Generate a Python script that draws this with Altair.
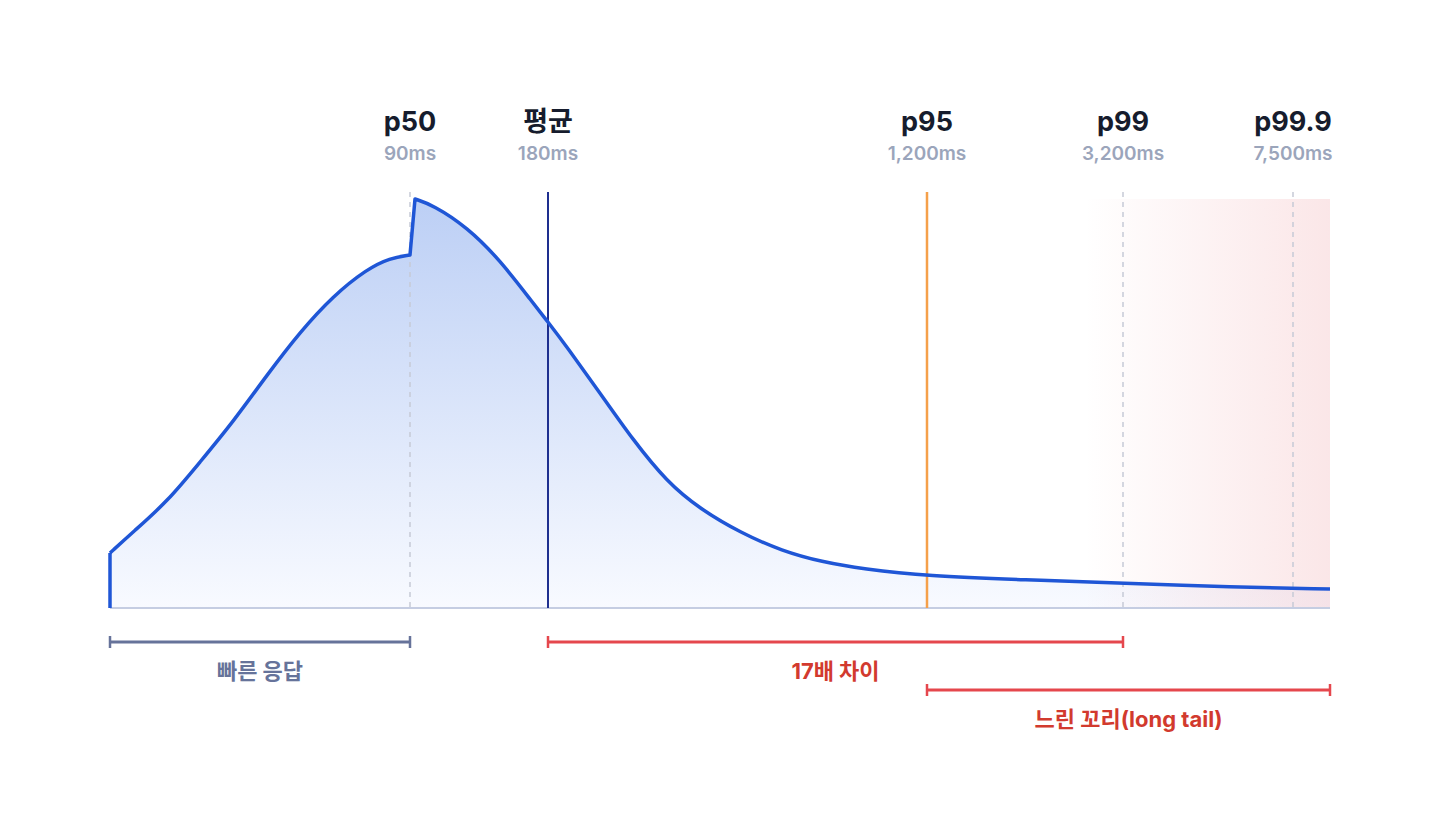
import altair as alt
import pandas as pd

# ---- data (schematic positions along the latency axis, heights above baseline) ----
curve_left_x = [0, 23, 57, 90, 123, 157, 190, 223, 257, 280, 300]
curve_left_y = [55, 76, 106, 146, 186, 233, 276, 312, 339, 350, 353]
curve_right_x = [305, 323, 357, 390, 423, 438, 457, 490, 523, 557, 590, 631, 672, 712, 753, 817, 916, 1013, 1121, 1220]
curve_right_y = [409, 403, 381, 348, 305, 286, 261, 215, 168, 126, 99, 75, 57, 46, 39, 32, 28, 25, 21, 19]

marker_names = ["p50", "평균", "p95", "p99", "p99.9"]
marker_values = ["90ms", "180ms", "1,200ms", "3,200ms", "7,500ms"]
marker_pos = [300, 438, 817, 1013, 1183]
marker_style = ["dash", "mean", "p95", "dash", "dash"]

bracket_labels = ["빠른 응답", "17배 차이", "느린 꼬리(long tail)"]
bracket_start = [0, 438, 817]
bracket_end = [300, 1013, 1220]
bracket_level = [-34, -34, -82]
bracket_color = ["#66739a", "#e5474d", "#e5474d"]
bracket_text_color = ["#66739a", "#d23a2e", "#d23a2e"]

X_MAX = 1220
Y_MAX = 409
FONT = "Inter, 'Noto Sans CJK KR', sans-serif"

xs = alt.Scale(domain=[0, X_MAX])
ys = alt.Scale(domain=[0, Y_MAX])

# The jump at p50 is kept sharp by repeating its two end points (B-spline knots).
cx = curve_left_x[:-1] + [curve_left_x[-1]] * 3 + [curve_right_x[0]] * 3 + curve_right_x[1:]
cy = curve_left_y[:-1] + [curve_left_y[-1]] * 3 + [curve_right_y[0]] * 3 + curve_right_y[1:]
curve = pd.DataFrame({"x": cx, "y": cy, "o": list(range(len(cx)))})
curve["zero"] = 0

markers = pd.DataFrame({
    "name": marker_names, "val": marker_values, "x": marker_pos, "style": marker_style,
    "top": [416] * 5, "bot": [0] * 5, "ty": [485] * 5, "sy": [454] * 5,
})

brk = pd.DataFrame({
    "label": bracket_labels, "x": bracket_start, "x2": bracket_end, "y": bracket_level,
    "color": bracket_color, "tcolor": bracket_text_color,
})
brk["yt"] = brk["y"] - 29.5
brk["mid"] = (brk["x"] + brk["x2"]) / 2
ticks = pd.DataFrame({
    "x": bracket_start + bracket_end,
    "y": [v + 6 for v in bracket_level] * 2,
    "y2": [v - 6 for v in bracket_level] * 2,
    "color": bracket_color * 2,
})


def X(f="x"):
    return alt.X(f"{f}:Q", scale=xs, axis=None)


def Y(f="y"):
    return alt.Y(f"{f}:Q", scale=ys, axis=None)


pink = alt.Chart(pd.DataFrame({"x": [975], "x2": [X_MAX], "y": [0], "y2": [Y_MAX]})).mark_rect(
    color=alt.Gradient(gradient="linear", x1=0, x2=1, y1=0, y2=0, stops=[
        alt.GradientStop(color="rgba(239,160,165,0)", offset=0),
        alt.GradientStop(color="rgba(239,160,165,0.26)", offset=1),
    ])
).encode(x=X(), x2="x2:Q", y=Y(), y2="y2:Q")

area = alt.Chart(curve).mark_area(
    interpolate="basis",
    color=alt.Gradient(gradient="linear", x1=0, x2=0, y1=0, y2=1, stops=[
        alt.GradientStop(color="#bccff5", offset=0),
        alt.GradientStop(color="#f8faff", offset=1),
    ])
).encode(x=X(), y=Y(), y2="zero:Q")

baseline = alt.Chart(pd.DataFrame({"x": [0], "x2": [X_MAX], "y": [0]})).mark_rule(
    color="#c5cde2", strokeWidth=2
).encode(x=X(), x2="x2:Q", y=Y())

dash_rules = alt.Chart(markers[markers["style"] == "dash"]).mark_rule(
    color="#c6cad6", strokeWidth=1.5, strokeDash=[5, 5]
).encode(x=X(), y=Y("top"), y2="bot:Q")

mean_rule = alt.Chart(markers[markers["style"] == "mean"]).mark_rule(
    color="#1e2f8f", strokeWidth=2
).encode(x=X(), y=Y("top"), y2="bot:Q")

p95_rule = alt.Chart(markers[markers["style"] == "p95"]).mark_rule(
    color="#f5a04a", strokeWidth=2.5
).encode(x=X(), y=Y("top"), y2="bot:Q")

line = alt.Chart(curve).mark_line(
    interpolate="basis", color="#1f56d6", strokeWidth=3.5, strokeJoin="round"
).encode(x=X(), y=Y(), order="o:Q")

start_edge = alt.Chart(pd.DataFrame({"x": [0], "y": [0], "y2": [curve_left_y[0]]})).mark_rule(
    color="#1f56d6", strokeWidth=3.5
).encode(x=X(), y=Y(), y2="y2:Q")

titles = alt.Chart(markers).mark_text(
    font=FONT, fontSize=27, fontWeight="bold", color="#161c2d", baseline="middle"
).encode(x=X(), y=Y("ty"), text="name:N")

subtitles = alt.Chart(markers).mark_text(
    font=FONT, fontSize=19, fontWeight=600, color="#9ba5bb", baseline="middle"
).encode(x=X(), y=Y("sy"), text="val:N")

brk_lines = alt.Chart(brk).mark_rule(strokeWidth=3).encode(
    x=X(), x2="x2:Q", y=Y(), color=alt.Color("color:N", scale=None)
)
brk_ticks = alt.Chart(ticks).mark_rule(strokeWidth=2.5).encode(
    x=X(), y=Y(), y2="y2:Q", color=alt.Color("color:N", scale=None)
)
brk_text = alt.Chart(brk).mark_text(
    font=FONT, fontSize=22, fontWeight="bold", baseline="middle"
).encode(x=X("mid"), y=Y("yt"), text="label:N", color=alt.Color("tcolor:N", scale=None))

chart = alt.layer(
    area, pink, baseline, dash_rules, mean_rule, p95_rule, line, start_edge,
    titles, subtitles, brk_lines, brk_ticks, brk_text
).properties(
    width=X_MAX, height=Y_MAX,
    autosize=alt.AutoSizeParams(type="none"),
    padding={"left": 110, "top": 199, "right": 110, "bottom": 232},
    background="white",
).configure_view(stroke=None)

chart.save("out.html", embed_options={"renderer": "svg", "actions": False})
